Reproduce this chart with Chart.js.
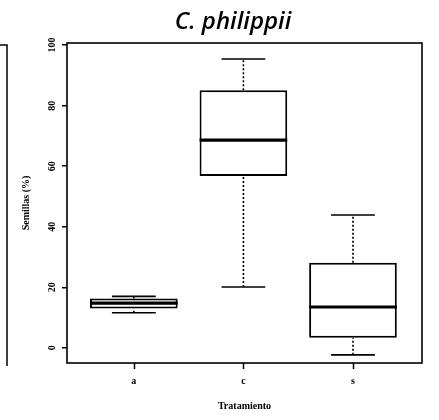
<!DOCTYPE html>
<html>
<head>
<meta charset="utf-8">
<script src="https://cdn.jsdelivr.net/npm/chart.js@4/dist/chart.umd.min.js"></script>
<style>
  html, body { margin: 0; padding: 0; background: #fff; }
  #wrap { width: 439px; height: 420px; position: relative; }
</style>
</head>
<body>
<div id="wrap"><canvas id="c" width="439" height="420"></canvas></div>
<script>
// Germinated seeds (%) per treatment, as five-number summaries
const categories   = ['a', 'c', 's'];
const lowerWhisker = [11.6, 20.1, -2.3];
const lowerQuart   = [13.0, 56.8, 3.3];
const medians      = [14.8, 68.6, 13.5];
const upperQuart   = [16.3, 85.1, 28.1];
const upperWhisker = [17.0, 95.4, 43.9];
const yTicks       = [0, 20, 40, 60, 80, 100];

const BOX_HALF = 0.4;   // half box width, in x units
const CAP_HALF = 0.2;   // half whisker-cap width, in x units

const pos = categories.map((c, i) => i + 1);

const boxData = pos.map((x, i) => ({ x, y: [lowerQuart[i], upperQuart[i]] }));
const medianData = pos.flatMap((x, i) => [
  { x: x - BOX_HALF, y: medians[i] }, { x: x + BOX_HALF, y: medians[i] }, { x: x + BOX_HALF, y: null }
]);
const whiskerData = pos.flatMap((x, i) => [
  { x, y: upperQuart[i] }, { x, y: upperWhisker[i] }, { x, y: null },
  { x, y: lowerWhisker[i] }, { x, y: lowerQuart[i] }, { x, y: null }
]);
const capData = pos.flatMap((x, i) => [
  { x: x - CAP_HALF, y: upperWhisker[i] }, { x: x + CAP_HALF, y: upperWhisker[i] }, { x: x + CAP_HALF, y: null },
  { x: x - CAP_HALF, y: lowerWhisker[i] }, { x: x + CAP_HALF, y: lowerWhisker[i] }, { x: x + CAP_HALF, y: null }
]);

const serif = { family: "'Liberation Serif', 'DejaVu Serif', serif", size: 10, weight: 'bold' };

// Plot frame, x tick marks, panel title and the edge of the neighbouring panel
const decor = {
  id: 'decor',
  afterDraw(chart) {
    const { ctx, chartArea: a } = chart;
    const xs = chart.scales.x;
    ctx.save();
    ctx.strokeStyle = '#000';
    ctx.lineWidth = 1.6;
    ctx.strokeRect(a.left, a.top, a.right - a.left, a.bottom - a.top);
    ctx.lineWidth = 1.5;
    ctx.beginPath();
    xs.ticks.forEach(t => {
      const px = Math.round(xs.getPixelForValue(t.value)) + 0.5;
      ctx.moveTo(px, a.bottom);
      ctx.lineTo(px, a.bottom + 6);
    });
    ctx.moveTo(0, 45); ctx.lineTo(7, 45); ctx.lineTo(7, 366);
    ctx.stroke();
    ctx.fillStyle = '#000';
    ctx.font = "italic 600 24px 'Open Sans', 'Noto Sans', sans-serif";
    ctx.textAlign = 'center';
    ctx.textBaseline = 'alphabetic';
    ctx.fillText('C. philippii', 233, 29);
    ctx.restore();
  }
};

new Chart(document.getElementById('c'), {
  type: 'line',
  data: {
    datasets: [
      { type: 'bar', data: boxData, backgroundColor: '#fff', borderColor: '#000', borderWidth: 2,
        borderSkipped: false, barPercentage: 0.8, categoryPercentage: 1, order: 3 },
      { data: whiskerData, borderColor: '#000', borderWidth: 1.6, borderDash: [2, 2], pointRadius: 0,
        spanGaps: false, fill: false, order: 2 },
      { data: capData, borderColor: '#000', borderWidth: 1.6, pointRadius: 0, spanGaps: false, fill: false, order: 1 },
      { data: medianData, borderColor: '#000', borderWidth: 3.2, pointRadius: 0, spanGaps: false, fill: false, order: 0 }
    ]
  },
  options: {
    responsive: false,
    animation: false,
    events: [],
    layout: { padding: { left: 0, right: 17, top: 43, bottom: 0 } },
    plugins: { legend: { display: false }, tooltip: { enabled: false }, title: { display: false } },
    scales: {
      x: {
        type: 'linear', offset: false, min: 0.39, max: 3.63,
        afterBuildTicks: s => { s.ticks = pos.map(v => ({ value: v })); },
        afterFit: s => { s.height = 57; },
        grid: { display: false, offset: false, drawOnChartArea: false, drawTicks: true, tickLength: 6 },
        border: { display: false },
        ticks: { color: '#000', font: serif, padding: 6, maxRotation: 0, autoSkip: false,
                 callback: (v, i) => categories[i] },
        title: { display: true, text: 'Tratamiento', color: '#000', font: serif, padding: { top: 0, bottom: 8 } }
      },
      y: {
        type: 'linear', min: -5, max: 100.7,
        afterBuildTicks: s => { s.ticks = yTicks.map(v => ({ value: v })); },
        afterFit: s => { s.width = 67; },
        grid: { display: true, drawOnChartArea: false, drawTicks: true, tickLength: 5, color: '#000', lineWidth: 1.5 },
        border: { display: false },
        ticks: { color: '#000', font: serif, padding: 2, minRotation: 90, maxRotation: 90,
                 crossAlign: 'center', autoSkip: false, callback: v => String(v) },
        title: { display: true, text: 'Semillas (%)', color: '#000', font: serif, padding: { top: 20, bottom: 0 } }
      }
    }
  },
  plugins: [decor]
});
</script>
</body>
</html>
